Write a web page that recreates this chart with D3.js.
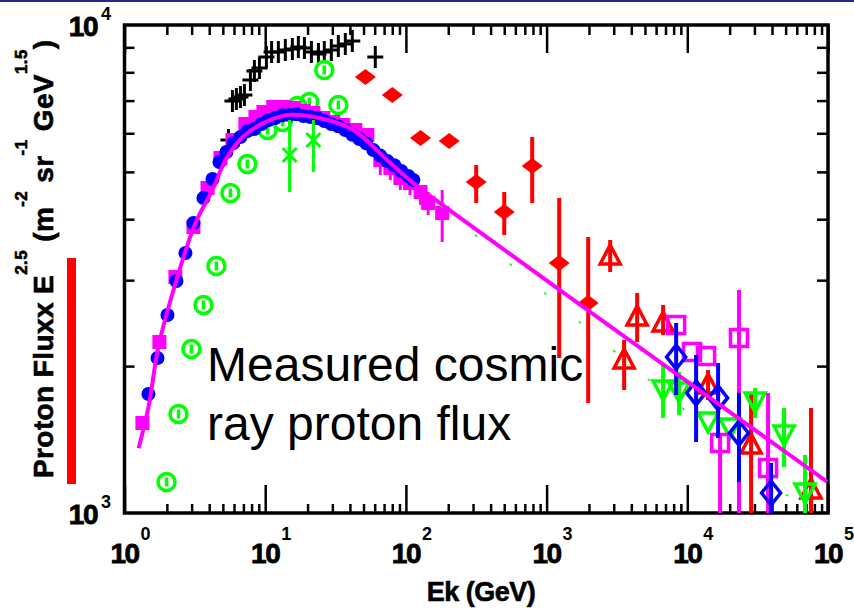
<!DOCTYPE html>
<html>
<head>
<meta charset="utf-8">
<script src="https://cdn.jsdelivr.net/npm/d3@7"></script>
<style>
body { margin: 0; background: #fff; }
svg { display: block; }
</style>
</head>
<body>
<svg id="chart" width="854" height="612"></svg>
<script>
// ---- data (Ek in GeV, flux x E^2.5) ----
const xExponents = [0, 1, 2, 3, 4, 5];
const yExponents = [3, 4];

// smooth fit (magenta line)
const fitE = [1.26, 1.48, 1.74, 2.23, 3.19, 4.22, 5.21, 6.89, 10.0, 15.1, 24.7, 42.3, 73.8, 113, 217, 2403, 98400];
const fitF = [1358, 1648, 2188, 2864, 3926, 4592, 5284, 5888, 6324, 6546, 6442, 6095, 5284, 4742, 4121, 2497, 1159];

// green dashed model
const modelE = [176, 63260];
const modelF = [4257, 1033];

// blue filled circles
const blueE = [1.48, 1.716, 2.02, 2.34, 2.71, 3.09, 3.64, 4.22, 4.73, 5.30, 5.94, 6.67, 7.47, 8.38, 9.40, 10.5, 11.8, 13.3, 14.9, 16.7, 18.7, 20.9, 23.5, 26.3, 29.5, 33.1, 37.1, 41.6, 46.7, 52.3, 58.7, 65.8, 73.8, 82.7, 92.8, 104, 113];
const blueF = [1753, 2078, 2545, 2988, 3410, 3930, 4420, 4835, 5240, 5493, 5731, 5895, 6060, 6120, 6268, 6380, 6449, 6530, 6541, 6560, 6510, 6480, 6440, 6358, 6268, 6200, 6093, 5960, 5841, 5720, 5545, 5400, 5264, 5160, 5022, 4904, 4813];

// magenta filled squares
const pinkE = [1.34, 1.77, 2.30, 3.09, 3.89, 4.81, 5.85, 7.23, 8.52, 9.71, 11.4, 13.5, 15.9, 18.7, 22.0, 25.9, 30.5, 35.9, 43.7, 53.2, 65.8, 77.5, 91.3, 107, 127, 144, 181];
const pinkF = [1529, 2241, 3045, 3855, 4634, 5340, 5812, 6268, 6480, 6634, 6792, 6792, 6760, 6666, 6602, 6449, 6327, 6238, 6093, 5953, 5289, 5093, 4859, 4745, 4547, 4318, 4119];
const pinkLo = [null, null, null, null, null, null, null, null, null, null, null, null, null, null, null, null, null, null, null, null, 4928, 4813, 4591, 4483, 4277, 4081, 3592];
const pinkHi = [null, null, null, null, null, null, null, null, null, null, null, null, null, null, null, null, null, null, null, null, 5545, 5340, 5093, 4928, 4700, 4547, 4591];

// black crosses
const crossE = [5.48, 5.85, 6.24, 6.67, 7.12, 7.85, 8.38, 9.10, 10.2, 11.1, 12.4, 13.9, 15.6, 17.2, 19.0, 21.3, 23.9, 26.3, 29.5, 33.1, 37.1, 41.6, 60.6];
const crossF = [5812, 6987, 7053, 7120, 7187, 7717, 8050, 8165, 8603, 8806, 8806, 8889, 8931, 9016, 8973, 8806, 8721, 8806, 8889, 9057, 9142, 9273, 8603];

// green open circles
const gCircE = [1.99, 2.42, 2.99, 3.64, 4.50, 5.66, 7.47, 10.4, 13.3, 16.9, 20.6, 26.3, 33.1];
const gCircF = [1157, 1595, 2168, 2669, 3207, 4526, 5190, 6093, 6327, 6823, 6953, 8089, 6856];

// green crosses (x)
const gxE = [14.9, 22.0];
const gxF = [5415, 5812];
const gxLo = [4547, 4998];
const gxHi = [6387, 6387];

// red filled diamonds
const rdE = [51.5, 80.1, 127, 203, 316, 500, 790, 1229, 1975];
const rdF = [7824, 7187, 5867, 5785, 4768, 4139, 5140, 3253, 2694];
const rdLo = [null, null, null, null, 4318, 3713, 4318, 2078, 1680];
const rdHi = [null, null, null, null, 5167, 4547, 5895, 4420, 3678];

// red open triangles
const rtE = [2830, 3557, 4400, 6730, 14050, 28400, 75700];
const rtF = [3362, 2058, 2521, 2451, 1829, 1379, 1115];
const rtLo = [3117, 1786, 2241, 2316, 1704, 1000, 1000];
const rtHi = [3626, 2262, 2823, 2669, 1963, 1762, 1641];

// magenta open squares
const msE = [8330, 10800, 13600, 17100, 23300, 37500];
const msF = [2428, 2138, 2098, 1391, 2283, 1236];
const msLo = [null, null, null, 1000, 1000, 1000];
const msHi = [null, null, null, 1458, 2864, 1762];

// blue open diamonds
const bdE = [8330, 11550, 16550, 23300, 39400];
const bdF = [2088, 1762, 1721, 1458, 1099];
const bdLo = [1745, 1398, 1424, 1157, 1000];
const bdHi = [2451, 2108, 2029, 1762, 1266];

// green open down triangles
const gtE = [6730, 8740, 14050, 20140, 30300, 48700, 68650];
const gtF = [1786, 1770, 1536, 1494, 1689, 1445, 1099];
const gtLo = [1566, 1588, null, null, 1566, 1243, 1000];
const gtHi = [2029, 1945, null, null, 1804, 1641, 1315];

// ---- layout ----
const svg = d3.select('#chart');
const plot = {left: 124.5, right: 828, top: 25, bottom: 513};

const x = d3.scaleLog().domain([1, 1e5]).range([plot.left, plot.right]);
const y = d3.scaleLog().domain([1e3, 1e4]).range([plot.bottom, plot.top]);

const zip = (E, F, lo, hi) => E.map((e, i) => ({e: e, f: F[i], lo: lo ? lo[i] : null, hi: hi ? hi[i] : null}));

// top blue rule and red bar
svg.append('rect').attr('x', 0).attr('y', 0).attr('width', 854).attr('height', 2).attr('fill', '#26268c');
svg.append('rect').attr('x', 67).attr('y', 258).attr('width', 9).attr('height', 226).attr('fill', '#ff0000');

svg.append('clipPath').attr('id', 'clip')
  .append('rect')
    .attr('x', plot.left).attr('y', plot.top)
    .attr('width', plot.right - plot.left).attr('height', plot.bottom - plot.top);

// axes ticks
const xTicks = x.ticks();
const xMajor = xTicks.filter(d => Math.abs(Math.log10(d) - Math.round(Math.log10(d))) < 1e-9);
const xMinor = xTicks.filter(d => xMajor.indexOf(d) < 0);
const yMinor = y.ticks().filter(d => d !== 1e3 && d !== 1e4);

const styleAxis = g => {
  g.select('.domain').remove();
  g.selectAll('line').attr('stroke', '#000').attr('stroke-width', 2.5);
};

svg.append('g').attr('transform', `translate(0,${plot.bottom})`)
  .call(d3.axisBottom(x).tickValues(xMinor).tickSize(-9).tickFormat('')).call(styleAxis);
svg.append('g').attr('transform', `translate(0,${plot.bottom})`)
  .call(d3.axisBottom(x).tickValues(xMajor).tickSize(-28).tickFormat('')).call(styleAxis);
svg.append('g').attr('transform', `translate(0,${plot.top})`)
  .call(d3.axisTop(x).tickValues(xMinor).tickSize(-10).tickFormat('')).call(styleAxis);
svg.append('g').attr('transform', `translate(0,${plot.top})`)
  .call(d3.axisTop(x).tickValues(xMajor).tickSize(-28).tickFormat('')).call(styleAxis);
svg.append('g').attr('transform', `translate(${plot.left},0)`)
  .call(d3.axisLeft(y).tickValues(yMinor).tickSize(-10).tickFormat('')).call(styleAxis);
svg.append('g').attr('transform', `translate(${plot.right},0)`)
  .call(d3.axisRight(y).tickValues(yMinor).tickSize(-11).tickFormat('')).call(styleAxis);

// frame
svg.append('rect')
  .attr('x', plot.left).attr('y', plot.top)
  .attr('width', plot.right - plot.left).attr('height', plot.bottom - plot.top)
  .attr('fill', 'none').attr('stroke', '#000').attr('stroke-width', 3.5);

// tick labels
const boldFont = '"Liberation Sans", Arial, sans-serif';
xExponents.forEach(p => {
  const px = x(Math.pow(10, p));
  svg.append('text')
    .attr('x', px).attr('y', 563).attr('text-anchor', 'middle')
    .style('font-family', boldFont).style('font-weight', 'bold').style('font-size', '28px')
    .style('letter-spacing', '-1.5px').attr('stroke', '#000').attr('stroke-width', 0.8)
    .text('10');
  svg.append('text')
    .attr('x', px + 16).attr('y', 540)
    .style('font-family', boldFont).style('font-weight', 'bold').style('font-size', '18px')
    .text(p);
});
yExponents.forEach(p => {
  const py = y(Math.pow(10, p));
  svg.append('text')
    .attr('x', 97).attr('y', py + 11).attr('text-anchor', 'end')
    .style('font-family', boldFont).style('font-weight', 'bold').style('font-size', '28px')
    .style('letter-spacing', '-1.5px').attr('stroke', '#000').attr('stroke-width', 0.8)
    .text('10');
  svg.append('text')
    .attr('x', 101).attr('y', py - 5)
    .style('font-family', boldFont).style('font-weight', 'bold').style('font-size', '18px')
    .text(p);
});

// axis titles
svg.append('text')
  .attr('x', 481).attr('y', 601).attr('text-anchor', 'middle')
  .style('font-family', boldFont).style('font-weight', 'bold').style('font-size', '27px')
  .style('letter-spacing', '-0.5px').attr('stroke', '#000').attr('stroke-width', 0.6)
  .text('Ek (GeV)');

const yTitle = svg.append('text')
  .attr('transform', 'translate(53,478) rotate(-90)')
  .style('font-family', boldFont).style('font-weight', 'bold').style('font-size', '28px')
  .style('letter-spacing', '0.4px').attr('stroke', '#000').attr('stroke-width', 0.6);
const yParts = [['Proton Fluxx E', false], ['2.5', true], [' (m', false], ['-2', true], [' sr', false], ['-1', true], [' GeV', false], ['1.5', true], [')', false]];
let raised = false;
yParts.forEach(([t, sup]) => {
  const ts = yTitle.append('tspan').text(t);
  if (sup && !raised) { ts.attr('dy', -26).style('font-size', '17px'); raised = true; }
  else if (sup) { ts.style('font-size', '17px'); }
  else if (raised) { ts.attr('dy', 26); raised = false; }
});

// ---- marks ----
const g = svg.append('g').attr('clip-path', 'url(#clip)');

const errorBars = (data, color, w) => {
  g.append('g').selectAll('line')
    .data(data.filter(d => d.lo != null))
    .join('line')
      .attr('x1', d => x(d.e)).attr('x2', d => x(d.e))
      .attr('y1', d => y(d.lo)).attr('y2', d => y(d.hi))
      .attr('stroke', color).attr('stroke-width', w);
};

const markers = (data, path, stroke, fill, w) => {
  g.append('g').selectAll('path')
    .data(data)
    .join('path')
      .attr('transform', d => `translate(${x(d.e)},${y(d.f)})`)
      .attr('d', path)
      .attr('fill', fill).attr('stroke', stroke).attr('stroke-width', w)
      .attr('stroke-linejoin', 'miter');
};

// black crosses
markers(zip(crossE, crossF), 'M-8,0H8M0,-11V11', '#000', 'none', 3);

// green circles with inner bar
markers(zip(gCircE, gCircF), 'M0,-8.5A8.5,8.5 0 1,1 0,8.5A8.5,8.5 0 1,1 0,-8.5ZM0,-4.5V4.5', '#00ff00', 'none', 3.5);

// magenta filled squares + bars
const pinkData = zip(pinkE, pinkF, pinkLo, pinkHi);
errorBars(pinkData, '#ff00ff', 3);
markers(pinkData, 'M-7,-7H7V7H-7Z', 'none', '#ff00ff', 0);

// blue filled circles
g.append('g').selectAll('circle')
  .data(zip(blueE, blueF))
  .join('circle')
    .attr('cx', d => x(d.e)).attr('cy', d => y(d.f)).attr('r', 7)
    .attr('fill', '#0000ff');

// green x with bars
const gxData = zip(gxE, gxF, gxLo, gxHi);
errorBars(gxData, '#00ff00', 3);
markers(gxData, 'M-7,-7L7,7M-7,7L7,-7', '#00ff00', 'none', 3);

// red filled diamonds
const rdData = zip(rdE, rdF, rdLo, rdHi);
errorBars(rdData, '#ff0000', 4);
markers(rdData, 'M-10.5,0L0,-8L10.5,0L0,8Z', 'none', '#ff0000', 0);

// green dashed model line
g.append('path')
  .datum(zip(modelE, modelF))
  .attr('d', d3.line().x(d => x(d.e)).y(d => y(d.f)))
  .attr('fill', 'none').attr('stroke', '#00ff00').attr('stroke-width', 1.5)
  .attr('stroke-dasharray', '3,42');

// high energy sets
const rtData = zip(rtE, rtF, rtLo, rtHi);
errorBars(rtData, '#ff0000', 4);
markers(rtData, 'M0,-11L10,8H-10Z', '#ff0000', 'none', 3.5);

const gtData = zip(gtE, gtF, gtLo, gtHi);
errorBars(gtData, '#00ff00', 4);
markers(gtData, 'M-10,-9H10L0,10Z', '#00ff00', 'none', 3.5);

const msData = zip(msE, msF, msLo, msHi);
errorBars(msData, '#ff00ff', 4);
markers(msData, 'M-8.5,-8.5H8.5V8.5H-8.5Z', '#ff00ff', 'none', 3.5);

const bdData = zip(bdE, bdF, bdLo, bdHi);
errorBars(bdData, '#0000ff', 4);
markers(bdData, 'M0,-12L9.5,0L0,12L-9.5,0Z', '#0000ff', 'none', 3.5);

// fit line on top
g.append('path')
  .datum(zip(fitE, fitF))
  .attr('d', d3.line().x(d => x(d.e)).y(d => y(d.f)).curve(d3.curveCatmullRom.alpha(0.5)))
  .attr('fill', 'none').attr('stroke', '#ff00ff').attr('stroke-width', 4);

// annotation
svg.append('text')
  .attr('x', 207).attr('y', 381)
  .style('font-family', '"Liberation Sans", Arial, sans-serif').style('font-size', '48px')
  .text('Measured cosmic');
svg.append('text')
  .attr('x', 207).attr('y', 440)
  .style('font-family', '"Liberation Sans", Arial, sans-serif').style('font-size', '48px')
  .text('ray proton flux');
</script>
</body>
</html>
